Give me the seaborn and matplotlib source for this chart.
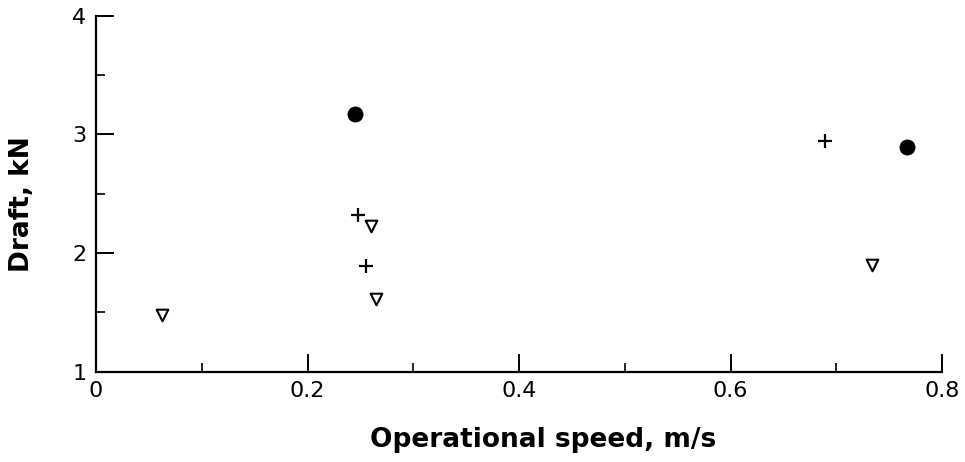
import matplotlib
matplotlib.use("Agg")
import matplotlib.pyplot as plt
import seaborn as sns
import pandas as pd
from matplotlib.ticker import MultipleLocator, FixedFormatter, FixedLocator

# data
circle_x = [0.245, 0.767]
circle_y = [3.17, 2.89]
plus_x = [0.248, 0.255, 0.689]
plus_y = [2.32, 1.89, 2.94]
tri_x = [0.062, 0.260, 0.265, 0.734]
tri_y = [1.48, 2.23, 1.61, 1.90]

x_ticks = [0, 0.2, 0.4, 0.6, 0.8]
x_labels = ["0", "0.2", "0.4", "0.6", "0.8"]
y_ticks = [1, 2, 3, 4]
y_labels = ["1", "2", "3", "4"]

sns.set_theme(style="ticks")
plt.rcParams["font.family"] = ["DejaVu Sans"]

fig = plt.figure(figsize=(9.65, 4.62), dpi=100)
ax = fig.add_axes([96 / 965, 1 - 371.7 / 462, (942 - 96) / 965, (371.7 - 15.7) / 462])

df_c = pd.DataFrame({"x": circle_x, "y": circle_y})
df_p = pd.DataFrame({"x": plus_x, "y": plus_y})
df_t = pd.DataFrame({"x": tri_x, "y": tri_y})

sns.scatterplot(data=df_c, x="x", y="y", ax=ax, marker="o", s=120,
                color="black", edgecolor="black", linewidth=0.5, zorder=3)
sns.scatterplot(data=df_p, x="x", y="y", ax=ax, marker="+", s=90,
                color="black", linewidth=1.6, zorder=3)
sns.scatterplot(data=df_t, x="x", y="y", ax=ax, marker="v", s=70,
                facecolor="white", edgecolor="black", linewidth=1.5, zorder=3)

ax.set_xlim(0, 0.8)
ax.set_ylim(1, 4)
ax.xaxis.set_major_locator(FixedLocator(x_ticks))
ax.xaxis.set_major_formatter(FixedFormatter(x_labels))
ax.yaxis.set_major_locator(FixedLocator(y_ticks))
ax.yaxis.set_major_formatter(FixedFormatter(y_labels))
ax.xaxis.set_minor_locator(MultipleLocator(0.1))
ax.yaxis.set_minor_locator(MultipleLocator(0.5))

sns.despine(ax=ax)
for sp in ["left", "bottom"]:
    ax.spines[sp].set_linewidth(1.6)
    ax.spines[sp].set_color("black")

ax.tick_params(which="major", direction="in", length=13, width=1.4, colors="black",
               labelsize=16, pad=7)
ax.tick_params(which="minor", direction="in", length=6.5, width=1.2, colors="black")

ax.set_xlabel("Operational speed, m/s", fontsize=19, fontweight="bold", color="black")
ax.set_ylabel("Draft, kN", fontsize=19, fontweight="bold", color="black")
ax.xaxis.set_label_coords(0.528, -0.155)
ax.yaxis.set_label_coords(-0.072, 0.47)
ax.set_facecolor("white")
fig.patch.set_facecolor("white")

fig.savefig("out.png", dpi=100)
